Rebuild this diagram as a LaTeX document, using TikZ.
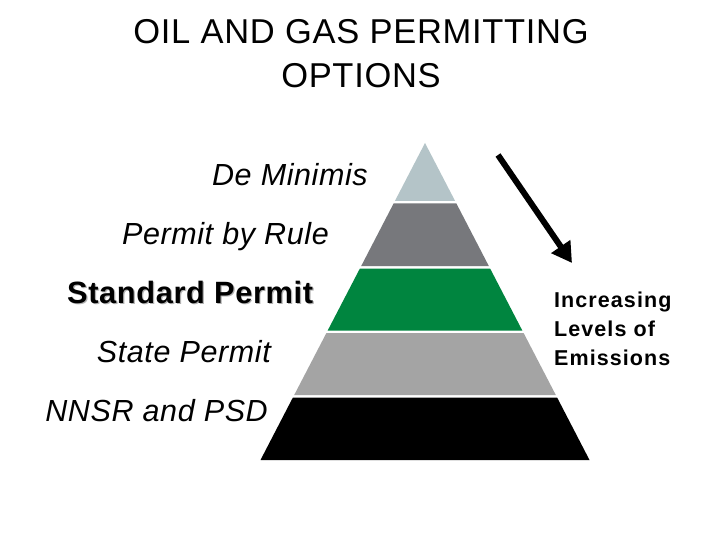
\documentclass[tikz,border=0pt]{standalone}
\usepackage{fontspec}
\setmainfont{Liberation Sans}
\newfontfamily\titlefont[LetterSpace=2]{Liberation Sans}
\newfontfamily\labelfont[LetterSpace=2]{Liberation Sans}
\newfontfamily\sidefont[LetterSpace=5]{Liberation Sans}
\usetikzlibrary{arrows.meta}
\definecolor{lvlA}{HTML}{B4C4C8}
\definecolor{lvlB}{HTML}{77787C}
\definecolor{lvlC}{HTML}{00853F}
\definecolor{lvlD}{HTML}{A4A4A4}
\definecolor{lvlE}{HTML}{000000}
\tikzset{
  titletext/.style={anchor=base, inner sep=0pt, font=\titlefont\fontsize{34.5}{40}\selectfont},
  leveltext/.style={anchor=base east, inner sep=0pt, font=\labelfont\fontsize{30.5}{36}\selectfont\itshape},
  boldlevel/.style={anchor=base east, inner sep=0pt, font=\labelfont\fontsize{30.8}{36}\selectfont\bfseries},
  sidetext/.style={anchor=base west, inner sep=0pt, font=\sidefont\fontsize{21.5}{25}\selectfont\bfseries},
  band/.style={draw=none}
}
\begin{document}
\begin{tikzpicture}[x=1pt,y=-1pt]
\useasboundingbox[fill=white] (0,0) rectangle (720,540);
% title
\node[titletext] (t1) at (361,43.3) {OIL AND GAS PERMITTING};
\node[titletext] (t2) at (361,87.5) {OPTIONS};
% pyramid bands
\fill[lvlA, band] (425,143) -- (455.1,201) -- (394.9,201) -- cycle;
\fill[lvlB, band] (393.6,203.5) -- (456.4,203.5) -- (488.8,266) -- (361.2,266) -- cycle;
\fill[lvlC, band] (359.9,268.5) -- (490.1,268.5) -- (522.3,330.5) -- (327.7,330.5) -- cycle;
\fill[lvlD, band] (326.4,333) -- (523.6,333) -- (555.8,395) -- (294.2,395) -- cycle;
\fill[lvlE, band] (292.9,397.5) -- (557.1,397.5) -- (589.5,460) -- (260.5,460) -- cycle;
% labels
\node[leveltext] (l1) at (368,185.7) {De Minimis};
\node[leveltext] (l2) at (329,244.3) {Permit by Rule};
\node[boldlevel, text=black!30] (l3s) at (314.5,304.8) {Standard Permit};
\node[boldlevel] (l3) at (313.3,303.3) {Standard Permit};
\node[leveltext] (l4) at (271,362) {State Permit};
\node[leveltext] (l5) at (268,421) {NNSR and PSD};
% side text
\node[sidetext] (s1) at (554,307.3) {Increasing};
\node[sidetext] (s2) at (554,336.5) {Levels of};
\node[sidetext] (s3) at (554,365) {Emissions};
% arrow
\coordinate (a0) at (498,155);
\coordinate (a1) at (572,263);
\draw[line width=6pt, -{Triangle[length=20pt,width=22pt]}] (a0) -- (a1);
\end{tikzpicture}
\end{document}
